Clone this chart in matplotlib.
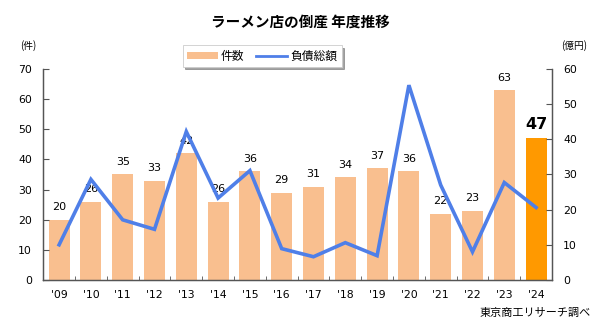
import matplotlib.pyplot as plt
from matplotlib.patches import Patch
from matplotlib.lines import Line2D

plt.rcParams['font.family'] = ['Noto Sans CJK JP', 'DejaVu Sans']

# 年度ごとの倒産件数と負債総額（億円）
years = ["'09", "'10", "'11", "'12", "'13", "'14", "'15", "'16",
         "'17", "'18", "'19", "'20", "'21", "'22", "'23", "'24"]
counts = [20, 26, 35, 33, 42, 26, 36, 29, 31, 34, 37, 36, 22, 23, 63, 47]
debt = [10.0, 28.6, 17.1, 14.4, 42.2, 23.3, 31.1, 8.9, 6.6, 10.6, 6.9,
        55.4, 27.0, 8.0, 27.7, 20.6]

bar_color = '#F9BF8F'
last_color = '#FF9900'
line_color = '#4F7FE8'

fig = plt.figure(figsize=(6, 3.24), dpi=100)
ax = fig.add_axes([0.072, 0.136, 0.848, 0.651])
ax2 = ax.twinx()

x = list(range(len(years)))
colors = [bar_color] * (len(years) - 1) + [last_color]
ax.bar(x, counts, width=0.66, color=colors, zorder=1)

for i, v in enumerate(counts):
    if i == len(counts) - 1:
        ax.text(i, v + 2.2, str(v), ha='center', va='bottom', fontsize=11.5,
                fontweight='bold', family='DejaVu Sans')
    else:
        ax.text(i, v + 2.5, str(v), ha='center', va='bottom', fontsize=8,
                family='DejaVu Sans')

ax2.plot(x, debt, color=line_color, lw=2.6, solid_joinstyle='miter', zorder=3)

ax.set_xlim(-0.5, len(years) - 0.5)
ax.set_ylim(0, 70)
ax2.set_ylim(0, 60)
ax.set_yticks(range(0, 71, 10))
ax2.set_yticks(range(0, 61, 10))
ax.set_xticks(x)
ax.set_xticklabels(years, family='DejaVu Sans')
ax.set_xticks([i + 0.5 for i in x[:-1]], minor=True)

for a in (ax, ax2):
    a.spines['top'].set_visible(False)
    for s in a.spines.values():
        s.set_color('#555555')
        s.set_linewidth(0.9)
ax.tick_params(axis='x', which='major', length=0, labelsize=7.8, pad=7)
ax.tick_params(axis='x', which='minor', direction='in', length=3, color='#555555')
ax.tick_params(axis='y', direction='in', length=4, labelsize=7.8, pad=8, color='#555555')
ax2.tick_params(axis='y', direction='in', length=4, labelsize=7.8, pad=8, color='#555555')
for lab in ax.get_yticklabels() + ax2.get_yticklabels():
    lab.set_family('DejaVu Sans')

ax2.set_zorder(ax.get_zorder() + 1)
ax2.patch.set_visible(False)

fig.text(0.5, 0.932, 'ラーメン店の倒産 年度推移', ha='center', va='center',
         fontsize=10.5, fontweight='bold')
fig.text(0.033, 0.86, '(件)', ha='left', va='center', fontsize=7)
fig.text(0.978, 0.86, '(億円)', ha='right', va='center', fontsize=7)
fig.text(0.985, 0.035, '東京商工リサーチ調べ', ha='right', va='center', fontsize=8)

handles = [Patch(facecolor=bar_color, label='件数'),
           Line2D([0], [0], color=line_color, lw=2, label='負債総額')]
leg = fig.legend(handles=handles, loc='center', bbox_to_anchor=(0.437, 0.827),
                 ncol=2, fontsize=8.5, frameon=True, fancybox=False, shadow=True,
                 handlelength=2.6, handleheight=0.5, columnspacing=1.0,
                 handletextpad=0.3, borderpad=0.35)
leg.get_frame().set_edgecolor('#cccccc')
leg.get_frame().set_linewidth(0.6)

fig.savefig('out.png', dpi=100)
